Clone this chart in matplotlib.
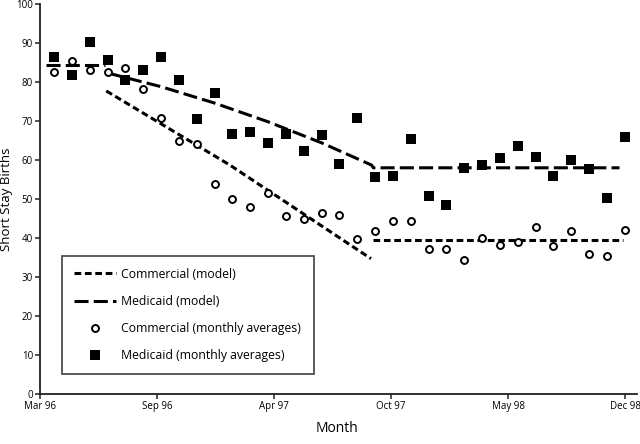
import numpy as np
import matplotlib
matplotlib.use('Agg')
import matplotlib.pyplot as plt

plt.rcParams['font.family'] = ['Open Sans', 'DejaVu Sans']

# monthly averages, Apr 96 .. Dec 98 (month index 1..33)
months = np.arange(1, 34)
commercial = [82.6, 85.5, 83.2, 82.6, 83.7, 78.1, 70.8, 64.9, 64.0, 53.9, 50.1,
              48.0, 51.6, 45.7, 45.0, 46.3, 46.0, 39.7, 41.9, 44.4, 44.4, 37.1,
              37.3, 34.3, 40.0, 38.3, 39.0, 42.8, 37.9, 41.8, 36.0, 35.5, 42.0]
medicaid = [86.5, 81.9, 90.3, 85.6, 80.5, 83.0, 86.5, 80.4, 70.4, 77.1, 66.6,
            67.2, 64.4, 66.7, 62.4, 66.5, 59.0, 70.7, 55.6, 55.8, 65.4, 50.8,
            48.5, 57.9, 58.6, 60.5, 63.5, 60.8, 55.8, 59.9, 57.8, 50.2, 65.9]

# model segments
pre_x = [0.55, 3.86]
pre_y = [84.4, 84.4]
med_model_x = [4.1, 7, 10, 13, 16, 18.8, 18.9, 32.7]
med_model_y = [82.2, 78.8, 74.6, 69.8, 64.4, 58.7, 58.0, 58.0]
com_model_x = [3.93, 10.86, 18.77]
com_model_y = [77.7, 58.7, 34.7]
com_flat_x = [18.9, 32.9]
com_flat_y = [39.4, 39.4]

tick_labels = ['Mar 96', 'Sep 96', 'Apr 97', 'Oct 97', 'May 98', 'Dec 98']

fig = plt.figure(figsize=(6.4, 4.44), dpi=100)
ax = fig.add_axes([0.0625, 0.1126, 0.9325, 0.8784])

lw = 2.2
ax.plot(com_model_x, com_model_y, color='black', lw=lw, dashes=(2.2, 1.2),
        dash_capstyle='butt', label='Commercial (model)')
ax.plot(com_flat_x, com_flat_y, color='black', lw=lw, dashes=(2.2, 1.2),
        dash_capstyle='butt')
ax.plot(med_model_x, med_model_y, color='black', lw=lw, dashes=(4.6, 1.7),
        dash_capstyle='butt', label='Medicaid (model)')
ax.plot(pre_x, pre_y, color='black', lw=lw, dashes=(4.6, 1.7),
        dash_capstyle='butt')
ax.plot(months, commercial, 'o', ms=5, mfc='white', mec='black', mew=1.4,
        ls='none', label='Commercial (monthly averages)')
ax.plot(months, medicaid, 's', ms=6.5, mfc='black', mec='black', mew=0,
        ls='none', label='Medicaid (monthly averages)')

ax.set_xlim(0.215, 33.67)
ax.set_ylim(0, 100)
ax.set_xticks(np.linspace(0.215, 33.02, 6))
ax.set_xticklabels(tick_labels)
ax.set_yticks(np.arange(0, 101, 10))
ax.tick_params(direction='out', length=3.5, width=1.1, labelsize=7,
               color='#222222', pad=1.5)
for s in ['top', 'right']:
    ax.spines[s].set_visible(False)
for s in ['left', 'bottom']:
    ax.spines[s].set_linewidth(1.3)
    ax.spines[s].set_color('#222222')
ax.set_xlabel('Month', fontsize=10)
ax.xaxis.set_label_coords(0.497, -0.07)
ax.set_ylabel('Short Stay Births', fontsize=9.5)
ax.yaxis.set_label_coords(-0.046, 0.5)

leg = ax.legend(loc='lower left', bbox_to_anchor=(0.037, 0.051, 0.422, 0.282),
                mode='expand', fontsize=8.8, frameon=True, fancybox=False,
                handlelength=3.4, handletextpad=0.45, labelspacing=1.15,
                borderpad=1.0, borderaxespad=0)
leg.get_frame().set_edgecolor('#222222')
leg.get_frame().set_linewidth(1.3)

plt.savefig('out.png', dpi=100)
